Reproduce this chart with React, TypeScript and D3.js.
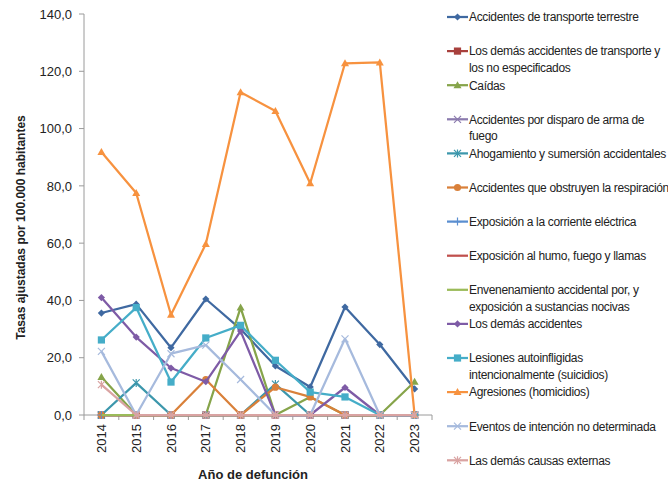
import React from "react";
import * as d3 from "d3";

const years = ["2014", "2015", "2016", "2017", "2018", "2019", "2020", "2021", "2022", "2023"];

const legendLines = [
  ["Accidentes de transporte terrestre"],
  ["Los demás accidentes de transporte y", "los no especificados"],
  ["Caídas"],
  ["Accidentes por disparo de arma de", "fuego"],
  ["Ahogamiento y sumersión accidentales"],
  ["Accidentes que obstruyen la respiración"],
  ["Exposición a la corriente eléctrica"],
  ["Exposición al humo, fuego y llamas"],
  ["Envenenamiento accidental por, y", "exposición a sustancias nocivas"],
  ["Los demás accidentes"],
  ["Lesiones autoinfligidas", "intencionalmente (suicidios)"],
  ["Agresiones (homicidios)"],
  ["Eventos de intención no determinada"],
  ["Las demás causas externas"],
];

const transporteTerrestre = [35.6, 38.7, 23.5, 40.5, 30.0, 17.1, 9.8, 37.7, 24.6, 9.1];
const demasTransporte = [0, 0, 0, 0, 0, 0, 0, 0, 0, 0];
const caidas = [13.3, 0, 0, 0, 37.5, 0, 6.3, 0, 0, 11.6];
const disparo = [0, 0, 0, 0, 0, 0, 0, 0, 0, 0];
const ahogamiento = [0, 11.2, 0, 0, 0, 10.8, 0, 0, 0, 0];
const obstruyen = [0, 0, 0, 12.4, 0, 9.7, 6.3, 0, 0, 0];
const corriente = [0, 0, 0, 0, 0, 0, 0, 0, 0, 0];
const humo = [0, 0, 0, 0, 0, 0, 0, 0, 0, 0];
const envenenamiento = [0, 0, 0, 0, 0, 0, 0, 0, 0, 0];
const demasAccidentes = [41.0, 27.2, 16.4, 11.6, 29.3, 0, 0, 9.6, 0, 0];
const lesiones = [26.2, 37.5, 11.5, 26.9, 31.3, 19.1, 8.0, 6.3, 0, 0];
const agresiones = [91.8, 77.5, 35.0, 59.7, 112.7, 106.1, 80.9, 122.8, 123.1, 0];
const eventos = [22.2, 0, 21.4, 24.4, 12.4, 0, 0, 26.6, 0, 0];
const demasCausas = [10.6, 0, 0, 0, 0, 0, 0, 0, 0, 0];

const seriesValues = [
  transporteTerrestre, demasTransporte, caidas, disparo, ahogamiento, obstruyen,
  corriente, humo, envenenamiento, demasAccidentes, lesiones, agresiones, eventos, demasCausas,
];

const colors = [
  "#3F69A1", "#A8403D", "#86A44A", "#8B7BAE", "#3C97AC", "#D9803A", "#5A8ED0",
  "#C0504D", "#9BBB59", "#7E5BA6", "#45ADC8", "#F7923F", "#A6BADD", "#D9A3A2",
];
const markers = [
  "diamond", "square", "triangle", "x", "star", "circle", "plus",
  "none", "none", "diamond", "square", "triangle", "x", "star",
];

const yTicks = [0, 20, 40, 60, 80, 100, 120, 140];

function markerEl(type: string, cx: number, cy: number, color: string, key: string | number) {
  const s = 3.6;
  switch (type) {
    case "diamond":
      return <path key={key} d={`M${cx},${cy - s}L${cx + s},${cy}L${cx},${cy + s}L${cx - s},${cy}Z`} fill={color} />;
    case "square":
      return <rect key={key} x={cx - 3.6} y={cy - 3.6} width={7.2} height={7.2} fill={color} />;
    case "triangle":
      return <path key={key} d={`M${cx},${cy - 4}L${cx + 4},${cy + 3}L${cx - 4},${cy + 3}Z`} fill={color} />;
    case "circle":
      return <circle key={key} cx={cx} cy={cy} r={3.6} fill={color} />;
    case "x":
      return <path key={key} d={`M${cx - 3.5},${cy - 3.5}L${cx + 3.5},${cy + 3.5}M${cx - 3.5},${cy + 3.5}L${cx + 3.5},${cy - 3.5}`} stroke={color} strokeWidth={1.2} fill="none" />;
    case "star":
      return <path key={key} d={`M${cx - 3.5},${cy - 3.5}L${cx + 3.5},${cy + 3.5}M${cx - 3.5},${cy + 3.5}L${cx + 3.5},${cy - 3.5}M${cx},${cy - 4}L${cx},${cy + 4}`} stroke={color} strokeWidth={1.2} fill="none" />;
    case "plus":
      return <path key={key} d={`M${cx - 4},${cy}L${cx + 4},${cy}M${cx},${cy - 4}L${cx},${cy + 4}`} stroke={color} strokeWidth={1.2} fill="none" />;
    default:
      return null;
  }
}

export default function App() {
  const W = 668, H = 484;
  const left = 84, right = 432, top = 14, bottom = 415;
  const x = d3.scaleBand<string>().domain(years).range([left, right]);
  const y = d3.scaleLinear().domain([0, 140]).range([bottom, top]);
  const cx = (yr: string) => (x(yr) as number) + x.bandwidth() / 2;
  const line = d3.line<number>().x((_, i) => cx(years[i])).y((v) => y(v));
  const fmt = (v: number) => d3.format(".1f")(v).replace(".", ",");
  const font = "'Liberation Sans', Arial, sans-serif";
  const legendX = 447, legendY0 = 17, legendStep = 34.1;
  const boundaries = d3.range(years.length + 1).map((i) => left + i * x.step());

  return (
    <svg width={W} height={H} style={{ position: "absolute", left: 0, top: 0, background: "#fff" }} fontFamily={font}>
      <line x1={left} y1={top} x2={left} y2={bottom} stroke="#9a9a9a" strokeWidth={1} />
      {yTicks.map((t) => (
        <g key={t}>
          <line x1={left - 5} x2={left} y1={y(t)} y2={y(t)} stroke="#9a9a9a" />
          <text x={72} y={y(t)} dy="0.36em" textAnchor="end" fontSize={13} fill="#222">{fmt(t)}</text>
        </g>
      ))}
      <line x1={left} y1={bottom} x2={right} y2={bottom} stroke="#9a9a9a" strokeWidth={1} />
      {boundaries.map((b, i) => (
        <line key={i} x1={b} x2={b} y1={bottom} y2={bottom + 5} stroke="#9a9a9a" />
      ))}
      {years.map((yr) => (
        <text key={yr} transform={`translate(${cx(yr)},${bottom + 9}) rotate(-90)`} textAnchor="end" dy="0.36em" fontSize={13} fill="#222">{yr}</text>
      ))}
      <text x={253} y={479} textAnchor="middle" fontSize={13} fontWeight="bold" fill="#222">Año de defunción</text>
      <text transform={`translate(25,${(top + bottom) / 2 + 13}) rotate(-90)`} textAnchor="middle" fontSize={12} fontWeight="bold" fill="#222">Tasas ajustadas por 100.000 habitantes</text>

      {seriesValues.map((vals, si) => (
        <g key={si}>
          <path d={line(vals) || ""} fill="none" stroke={colors[si]} strokeWidth={2.25} strokeLinejoin="round" />
          {vals.map((v, i) => markerEl(markers[si], cx(years[i]), y(v), colors[si], i))}
        </g>
      ))}

      {legendLines.map((lines, i) => {
        const ly = legendY0 + i * legendStep;
        return (
          <g key={i}>
            <line x1={legendX} x2={legendX + 21} y1={ly} y2={ly} stroke={colors[i]} strokeWidth={2.25} />
            {markerEl(markers[i], legendX + 10.5, ly, colors[i], "m")}
            {lines.map((t, j) => (
              <text key={j} x={469} y={ly + j * 16.5} dy="0.36em" fontSize={12} letterSpacing={-0.33} fill="#222">{t}</text>
            ))}
          </g>
        );
      })}
    </svg>
  );
}
